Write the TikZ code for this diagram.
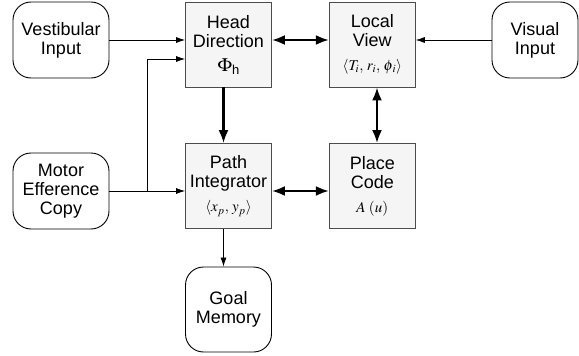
\documentclass[tikz,border=0pt]{standalone}
\usepackage{mathptmx}
\usepackage{fontspec}
\setmainfont{Liberation Sans}
\usetikzlibrary{arrows.meta}
\newcommand{\mth}[1]{{\fontsize{15}{15}\selectfont$#1$}}
\begin{document}
\begin{tikzpicture}[x=1pt,y=-1pt,
  box/.style={draw=black!70, fill=black!4, line width=0.9pt, minimum width=86pt, minimum height=85pt, inner sep=0pt, align=center, font=\fontsize{18}{19}\selectfont},
  inbox/.style={draw=black, rounded corners=18pt, line width=0.9pt, minimum height=76pt, inner sep=0pt, align=center, font=\fontsize{18}{19}\selectfont},
  thinarr/.style={-{Latex[length=9pt,width=6pt]}, line width=0.7pt},
  thickboth/.style={{Latex[length=13pt,width=10pt]}-{Latex[length=13pt,width=10pt]}, line width=2.2pt},
  thickone/.style={-{Latex[length=13pt,width=10pt]}, line width=2.2pt}]
\useasboundingbox (0,0) rectangle (579,356);
\node[inbox, minimum width=96pt] (vest) at (61,40) {Vestibular\\Input};
\node[inbox, minimum width=86pt] (vis) at (535,40) {Visual\\Input};
\node[inbox, minimum width=96pt] (mot) at (61,191) {Motor\\Efference\\Copy};
\node[inbox, minimum width=86pt, minimum height=85pt] (goal) at (228.5,309.5) {Goal\\Memory};
\node[box] (hd) at (228.5,44.5) {Head\\Direction\\[5pt]{\fontsize{19}{19}\selectfont$\Phi$}\raisebox{-3pt}{\fontsize{13}{13}\selectfont h}};
\node[box] (lv) at (372.3,44.5) {Local\\View\\[5pt]\mth{\langle T_{i}{,}\; r_{i}{,}\; \phi_{\kern1pt i}\rangle}};
\node[box] (pi) at (228.5,186) {Path\\Integrator\\[5pt]\mth{\langle x_{p}{,}\; y_{p}\rangle}};
\node[box] (pc) at (372.3,186) {Place\\Code\\[5pt]\mth{A\;(u)}};
\coordinate (j) at (147,191);
\draw[thinarr] (vest.east) -- (hd.west |- vest.east);
\draw[thinarr] (mot.east) -- (pi.west |- mot.east);
\draw[thinarr] (j) |- ([yshift=-14.5pt]hd.west);
\draw[thinarr] (vis.west) -- (lv.east |- vis.west);
\draw[thickone] ([xshift=-5pt]hd.south) -- ([xshift=-5pt]pi.north);
\draw[thickboth] ([yshift=4.5pt]hd.east) -- ([yshift=4.5pt]lv.west);
\draw[thickboth] ([xshift=4.7pt]lv.south) -- ([xshift=4.7pt]pc.north);
\draw[thickboth] ([yshift=-5pt]pi.east) -- ([yshift=-5pt]pc.west);
\draw[thinarr] ([xshift=-5pt]pi.south) -- ([xshift=-5pt]goal.north);
\end{tikzpicture}
\end{document}
